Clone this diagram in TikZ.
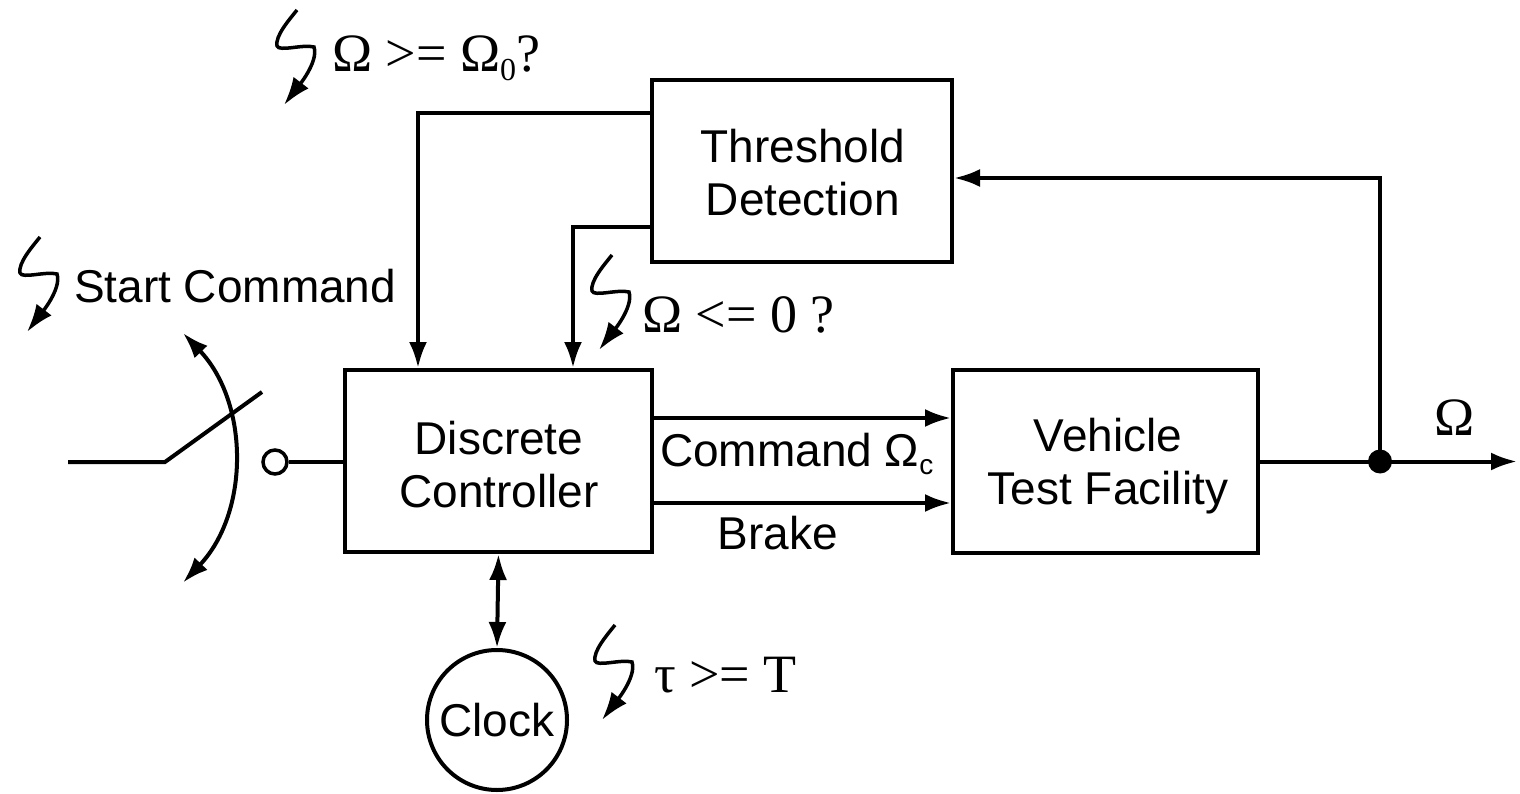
\documentclass[tikz,border=0pt]{standalone}
\usepackage{fontspec}
\setmainfont{Liberation Sans}
\newfontfamily\serifl{Liberation Serif}
\usetikzlibrary{arrows.meta,calc}
\tikzset{
  every picture/.style={line width=4pt},
  box/.style={draw, line width=4pt, align=center, font=\fontsize{46}{53}\selectfont},
  boxtext/.style={align=center, font=\fontsize{46}{53}\selectfont, inner sep=0pt},
  arr/.style={-{Latex[length=26pt,width=18pt]}},
  dblarr/.style={{Latex[length=26pt,width=18pt]}-{Latex[length=26pt,width=18pt]}},
  sanslbl/.style={font=\fontsize{46}{53}\selectfont, inner sep=0pt},
  seriflbl/.style={font=\serifl\fontsize{54}{58}\selectfont, inner sep=0pt},
  bolt/.pic={\draw[line width=3.5pt, -{Latex[length=28pt,width=19pt]}] (0,0) .. controls (-8,10) and (-22,26) .. (-20,36) .. controls (-18,42) and (6,34) .. (17,37) .. controls (22,52) and (0,78) .. (-13,95);}
}
\begin{document}
\begin{tikzpicture}[x=1pt,y=-1pt]
\useasboundingbox (0,0) rectangle (1520,794);
% blocks
\node[box, minimum width=300pt, minimum height=182pt] (thr) at (802,171) {};
\node[boxtext] (thrt) at (803,173) {Threshold\\Detection};
\node[box, minimum width=307pt, minimum height=182pt] (dc) at (498.5,461) {};
\node[boxtext] (dct) at (499,465) {Discrete\\Controller};
\node[box, minimum width=305pt, minimum height=183pt] (vtf) at (1105.5,461.5) {};
\node[boxtext] (vtft) at (1108,466) {Vehicle\\Test Facility};
\node[draw, circle, line width=4pt, minimum size=140pt, inner sep=0pt, font=\fontsize{46}{53}\selectfont] (clk) at (497,720) {Clock};
% switch
\coordinate (in) at (68,462);
\coordinate (sw1) at (165,462);
\coordinate (sw2) at (262,392);
\node[draw, circle, line width=3.5pt, minimum size=24pt, inner sep=0pt] (term) at (275,462) {};
\draw (in) -- (sw1) -- (sw2);
\draw (term.east) -- (dc.west |- term.east);
\draw[dblarr] (183,333) arc[start angle=-43.6, end angle=43.6, radius=181];
% feedback from threshold
\draw[arr] ($(thr.north west)+(0,35)$) -| ($(dc.north west)+(75,0)$);
\draw[arr] ($(thr.south west)+(0,-37)$) -| ($(dc.north west)+(230,0)$);
% command and brake
\draw[arr] ($(dc.north east)+(0,50)$) -- ($(vtf.north west)+(0,50)$);
\draw[arr] ($(dc.north east)+(0,135)$) -- ($(vtf.north west)+(0,135)$);
% output
\coordinate (j) at (1380,461.5);
\coordinate (out) at (1517,461.5);
\draw[arr] (vtf.east) -- (out);
\fill (j) circle (12pt);
\draw[arr] (j) |- ($(thr.east)+(0,7)$);
% clock
\draw[dblarr] (dc.south) -- (clk.north);
% labels
\node[sanslbl, anchor=base west] (lstart) at (72,302) {Start Command};
\node[sanslbl, anchor=base west] (lcmd) at (658,466) {Command \fontsize{46}{53}\selectfont Ω\raisebox{-0.35ex}{\fontsize{28}{30}\selectfont c}};
\node[sanslbl, anchor=base] (lbrake) at (778,549) {Brake};
\node[seriflbl, anchor=base] (lomega) at (1455,435) {Ω};
\node[seriflbl, anchor=base west] (lthr) at (330,72) {Ω >= Ω\raisebox{-0.35ex}{\fontsize{32}{34}\selectfont 0}?};
\node[seriflbl, anchor=base west] (lzero) at (640,332) {Ω <= 0 ?};
\node[seriflbl, anchor=base west] (ltau) at (652,692) {τ >= T};
% bolts
\pic at (297,10) {bolt};
\pic at (40,237) {bolt};
\pic at (612,255) {bolt};
\pic at (615,625) {bolt};
\end{tikzpicture}
\end{document}
